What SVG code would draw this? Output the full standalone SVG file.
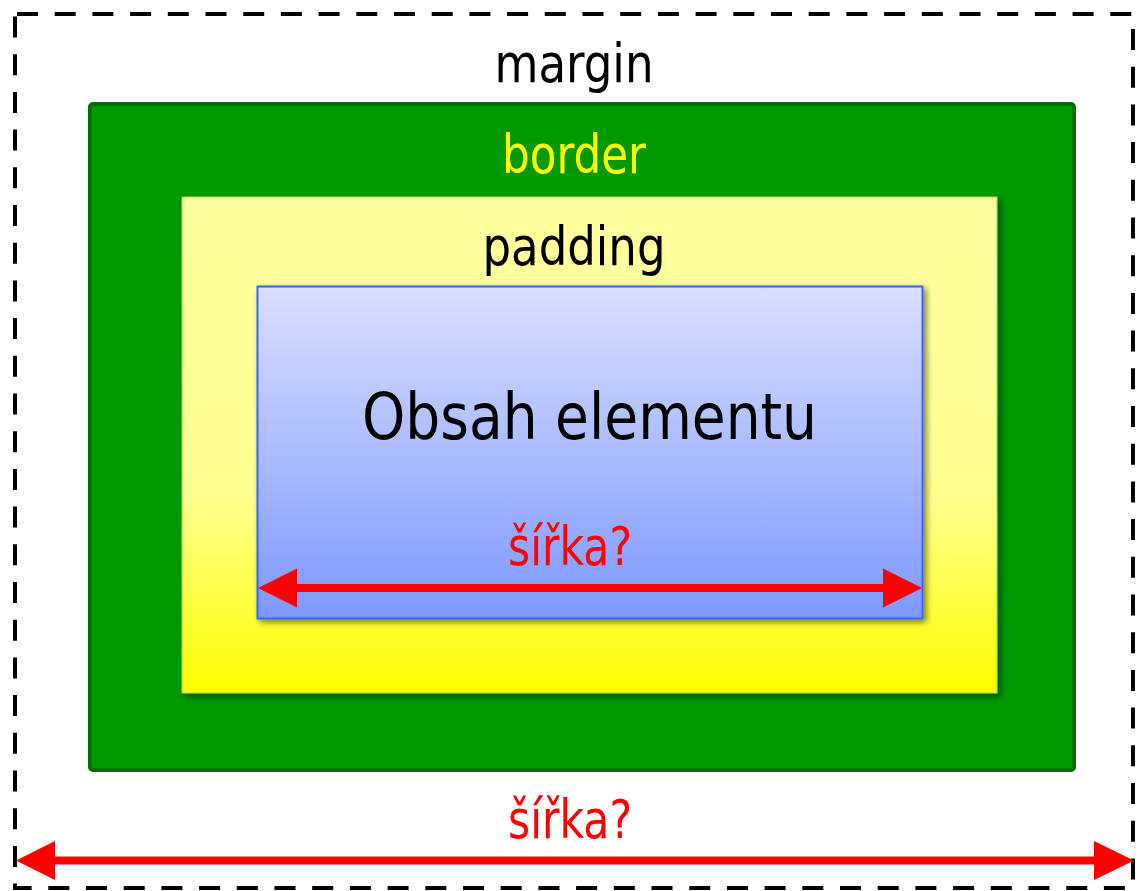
<svg xmlns="http://www.w3.org/2000/svg" width="1143" height="891" viewBox="0 0 1143 891">
<style>
.t{font-family:"DejaVu Sans Condensed","DejaVu Sans",sans-serif;text-anchor:middle}
.arrow{stroke:#ff0000;stroke-width:8;fill:none}
.head{fill:#ff0000}
</style>
<defs>
<linearGradient id="gy" x1="0" y1="0" x2="0" y2="1">
<stop offset="0" stop-color="#ffffa0"/>
<stop offset="0.6" stop-color="#ffff90"/>
<stop offset="1" stop-color="#ffff00"/>
</linearGradient>
<linearGradient id="gb" x1="0" y1="0" x2="0" y2="1">
<stop offset="0" stop-color="#d9dfff"/>
<stop offset="1" stop-color="#7d98ff"/>
</linearGradient>
<filter id="sh" x="-5%" y="-5%" width="110%" height="115%">
<feGaussianBlur in="SourceAlpha" stdDeviation="3"/>
<feOffset dx="3" dy="3" result="b"/>
<feComponentTransfer><feFuncA type="linear" slope="0.5"/></feComponentTransfer>
<feMerge><feMergeNode/><feMergeNode in="SourceGraphic"/></feMerge>
</filter>
</defs>
<g id="margin">
<rect x="15" y="14" width="1118" height="874" fill="#ffffff" stroke="#000000" stroke-width="4" stroke-dasharray="21 16.7" stroke-dashoffset="-2"/>
<text class="t" x="574" y="82" font-size="54" fill="#000000" textLength="159" lengthAdjust="spacingAndGlyphs">margin</text>
</g>
<g id="border">
<rect x="90" y="104" width="984" height="666" rx="3" fill="#009900" stroke="#006e00" stroke-width="4"/>
<text class="t" x="574" y="173" font-size="54" fill="#ffff00" textLength="144" lengthAdjust="spacingAndGlyphs">border</text>
</g>
<g id="padding">
<rect x="182" y="197" width="815" height="496" fill="url(#gy)" stroke="#b5d53a" stroke-width="1" filter="url(#sh)"/>
<text class="t" x="574" y="265" font-size="54" fill="#000000" textLength="183" lengthAdjust="spacingAndGlyphs">padding</text>
</g>
<g id="content">
<rect x="257.5" y="286.5" width="665" height="332" fill="url(#gb)" stroke="#3366ff" stroke-width="2" filter="url(#sh)"/>
<text class="t" x="589.5" y="439" font-size="64" fill="#000000" textLength="455" lengthAdjust="spacingAndGlyphs">Obsah elementu</text>
<text class="t" x="570" y="565" font-size="54" fill="#ff0000" textLength="124" lengthAdjust="spacingAndGlyphs">šířka?</text>
</g>
<g id="connectors">
<line class="arrow" x1="295" y1="588" x2="885" y2="588"/>
<polygon class="head" points="258,588 297,568.5 297,607.5"/>
<polygon class="head" points="922,588 883,568.5 883,607.5"/>
<line class="arrow" x1="53" y1="860.5" x2="1096" y2="860.5"/>
<polygon class="head" points="16,860.5 55,841 55,880"/>
<polygon class="head" points="1134,860.5 1094,841 1094,880"/>
<text class="t" x="570" y="838" font-size="54" fill="#ff0000" textLength="124" lengthAdjust="spacingAndGlyphs">šířka?</text>
</g>
</svg>
